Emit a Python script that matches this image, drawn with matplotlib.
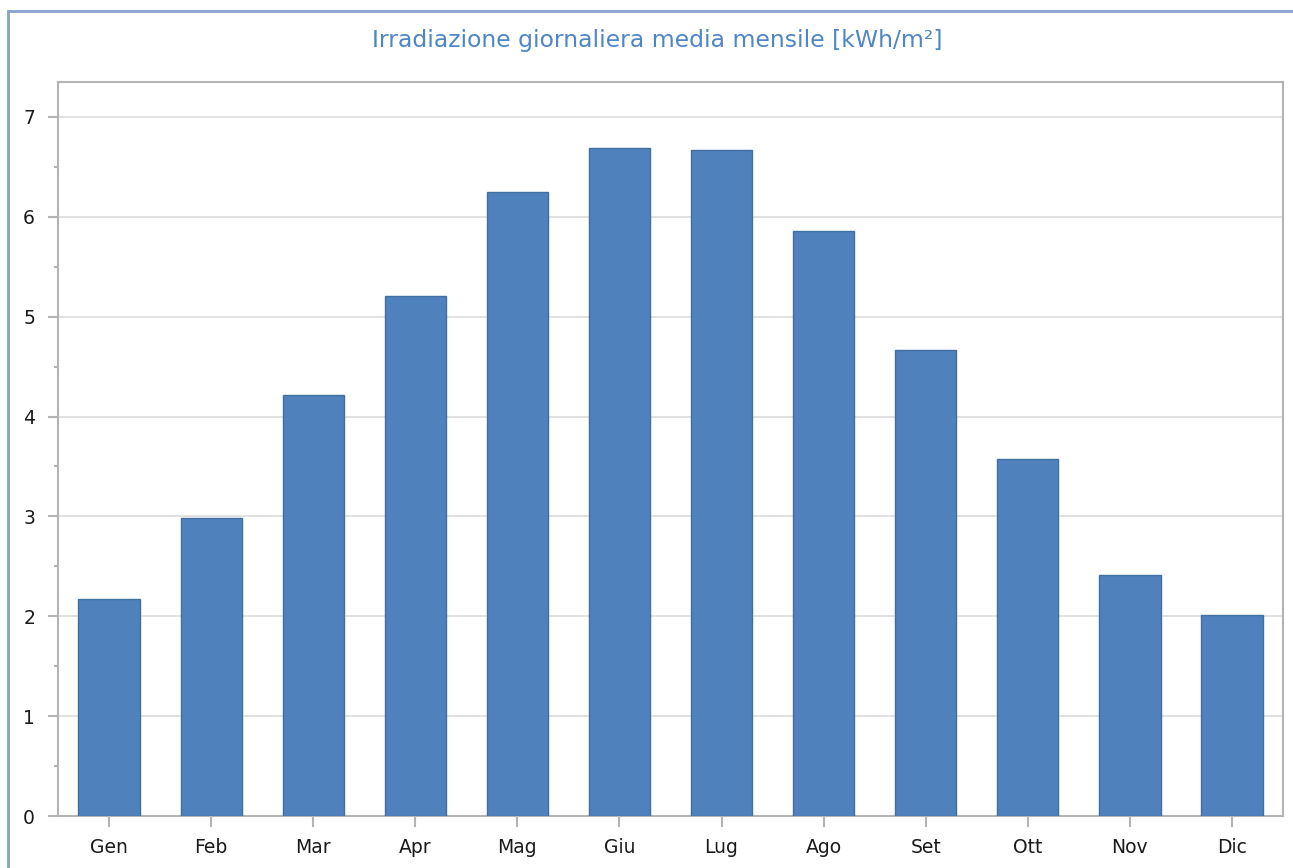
import numpy as np
import matplotlib.pyplot as plt
from matplotlib.patches import Rectangle
from matplotlib.ticker import MultipleLocator

# monthly average daily irradiation
months = ['Gen', 'Feb', 'Mar', 'Apr', 'Mag', 'Giu', 'Lug', 'Ago', 'Set', 'Ott', 'Nov', 'Dic']
irradiation = [2.17, 2.98, 4.22, 5.21, 6.25, 6.69, 6.67, 5.86, 4.67, 3.57, 2.41, 2.01]

fig = plt.figure(figsize=(12.93, 8.68), dpi=100)
ax = fig.add_axes([58 / 1293, 1 - 816 / 868, (1283 - 58) / 1293, (816 - 82) / 868])

# outer border of the chart control
fig.patches.append(Rectangle((8 / 1293, -0.1), 1.2, 1 - 11 / 868 + 0.1,
                             transform=fig.transFigure, fill=False,
                             edgecolor='#86a3cc', linewidth=2))

x = np.arange(len(months))
ax.bar(x, irradiation, width=0.6, color='#4f81bd', edgecolor='#41709f', linewidth=1, zorder=3)

ax.set_xlim(-0.5, len(months) - 0.5)
ax.set_ylim(0, 7.35)
ax.set_xticks(x)
ax.set_xticklabels(months)
ax.yaxis.set_major_locator(MultipleLocator(1))
ax.yaxis.set_minor_locator(MultipleLocator(0.5))
ax.grid(axis='y', which='major', color='#dcdcdc', linewidth=1.2, zorder=0)

for s in ax.spines.values():
    s.set_color('#b4b4b4')
    s.set_linewidth(1.5)
ax.tick_params(axis='both', which='both', color='#b4b4b4', width=1.5, labelsize=13.5, labelcolor='#1a1a1a')
ax.tick_params(axis='y', which='major', length=7.5, pad=9)
ax.tick_params(axis='y', which='minor', length=3)
ax.tick_params(axis='x', which='major', length=8, pad=8)

fig.text((372 + 942) / 2 / 1293, 1 - 40 / 868, 'Irradiazione giornaliera media mensile [kWh/m²]',
         ha='center', va='center', fontsize=16.9, color='#4f86c6')

plt.savefig('out.png', dpi=100)
